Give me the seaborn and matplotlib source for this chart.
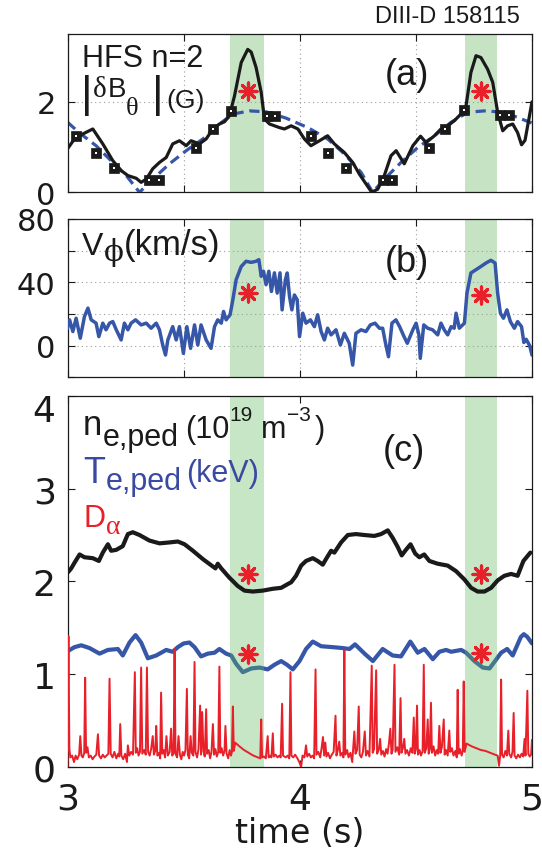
import numpy as np
import pandas as pd
import matplotlib
matplotlib.use('Agg')
import matplotlib.pyplot as plt
import matplotlib.transforms as mtransforms
import seaborn as sns

sns.set_style('ticks')
plt.rcParams['font.family'] = ['Liberation Sans', 'DejaVu Sans']
plt.rcParams['mathtext.fontset'] = 'dejavusans'

# ---------------- data ----------------
bands = [(3.70, 3.845), (4.71, 4.85)]

# (a) HFS n=2 |dB_theta|
dbt_t = [3.000, 3.030, 3.066, 3.109, 3.152, 3.195, 3.231, 3.260, 3.296, 3.317, 3.339, 3.367,
         3.396, 3.425, 3.453, 3.482, 3.511, 3.532, 3.568, 3.597, 3.626, 3.654, 3.676, 3.697,
         3.719, 3.748, 3.776, 3.791, 3.812, 3.834, 3.848, 3.870, 3.913, 3.934, 3.963, 3.992,
         4.020, 4.048, 4.085, 4.120, 4.149, 4.192, 4.228, 4.257, 4.286, 4.310, 4.336, 4.364,
         4.393, 4.415, 4.450, 4.487, 4.520, 4.544, 4.580, 4.608, 4.637, 4.665, 4.694, 4.716,
         4.737, 4.759, 4.780, 4.809, 4.831, 4.852, 4.874, 4.895, 4.917, 4.938, 4.955, 4.970,
         5.000]
dbt_v = [0.96, 1.18, 1.29, 1.40, 1.07, 0.70, 0.48, 0.37, 0.31, 0.22, 0.29, 0.52,
         0.66, 0.77, 1.07, 1.14, 1.03, 1.14, 1.07, 1.18, 1.40, 1.51, 1.56, 1.69,
         2.13, 2.87, 3.16, 3.10, 2.76, 2.21, 1.62, 1.51, 1.43, 1.40, 1.47, 1.40,
         1.18, 1.03, 1.14, 1.25, 1.07, 0.88, 0.66, 0.40, 0.18, 0.00, 0.07, 0.37,
         0.81, 0.92, 0.63, 1.03, 1.24, 1.10, 1.25, 1.40, 1.47, 1.58, 1.73, 1.91,
         2.65, 3.02, 2.98, 2.72, 2.43, 1.77, 1.36, 1.47, 1.51, 1.32, 1.05, 1.15,
         2.00]

fit_t = [3.000, 3.050, 3.123, 3.195, 3.253, 3.310, 3.367, 3.439, 3.511, 3.583, 3.654, 3.712,
         3.783, 3.855, 3.941, 4.035, 4.120, 4.192, 4.264, 4.314, 4.364, 4.436, 4.508, 4.580,
         4.652, 4.724, 4.795, 4.880, 5.000]
fit_v = [1.55, 1.32, 1.03, 0.66, 0.37, 0.00, 0.29, 0.63, 0.92, 1.18, 1.51, 1.73,
         1.80, 1.78, 1.64, 1.43, 1.18, 0.85, 0.44, 0.00, 0.29, 0.66, 0.99, 1.25,
         1.55, 1.77, 1.80, 1.77, 1.53]

sq_t = [3.037, 3.123, 3.202, 3.353, 3.392, 3.554, 3.626, 3.705, 3.858, 3.894,
        4.049, 4.120, 4.200, 4.357, 4.396, 4.556, 4.627, 4.709, 4.862, 4.903]
sq_v = [1.25, 0.87, 0.53, 0.28, 0.28, 0.99, 1.40, 1.80, 1.69, 1.69,
        1.25, 0.87, 0.53, 0.28, 0.28, 0.99, 1.40, 1.82, 1.71, 1.71]

star_t = [3.779, 4.780]
star_a = [2.24, 2.24]
star_b = [33.0, 32.0]
star_ne = [2.08, 2.08]
star_te = [1.22, 1.23]

# (b) V_phi
vphi_t = [3.000, 3.009, 3.023, 3.037, 3.055, 3.073, 3.088, 3.102, 3.123, 3.135, 3.152, 3.166,
          3.181, 3.195, 3.210, 3.231, 3.245, 3.260, 3.274, 3.293, 3.317, 3.339, 3.360, 3.382,
          3.396, 3.410, 3.422, 3.432, 3.453, 3.468, 3.482, 3.499, 3.514, 3.530, 3.547, 3.561,
          3.575, 3.597, 3.618, 3.633, 3.647, 3.662, 3.672, 3.683, 3.700, 3.712, 3.726, 3.748,
          3.769, 3.791, 3.812, 3.824, 3.834, 3.844, 3.855, 3.867, 3.878, 3.891, 3.903, 3.915,
          3.924, 3.938, 3.946, 3.956, 3.966, 3.977, 3.989, 3.999, 4.013, 4.027, 4.046, 4.063,
          4.077, 4.092, 4.106, 4.120, 4.135, 4.156, 4.175, 4.192, 4.213, 4.228, 4.242, 4.264,
          4.285, 4.304, 4.324, 4.343, 4.357, 4.368, 4.382, 4.397, 4.414, 4.430, 4.449, 4.463,
          4.487, 4.501, 4.513, 4.519, 4.534, 4.551, 4.572, 4.594, 4.608, 4.622, 4.637, 4.652,
          4.665, 4.673, 4.687, 4.709, 4.720, 4.737, 4.759, 4.780, 4.802, 4.823, 4.841, 4.852,
          4.864, 4.877, 4.892, 4.907, 4.924, 4.938, 4.955, 4.965, 4.975, 4.990, 5.000]
vphi_v = [11, 16.3, 8.9, 17.3, 4.7, 18.4, 23.7, 16.3, 14.2, 5.7, 14.2, 10,
          14.2, 15.2, 10, 3.6, 14.2, 10, 14.2, 16.3, 13.1, 14.2, 11, 14.2,
          10, 0.4, -5.9, 3.6, 12, 3.6, 12, -4.9, 12, -1.7, 13.1, 0.4,
          13.1, 3.6, -1.7, 12, 16.3, 14.2, 21.6, 16.3, 19.5, 29, 41.6, 50,
          53.3, 52.6, 53.3, 54.3, 43.8, 47, 38.5, 47, 34.2, 46, 33.2, 46,
          22.6, 41.6, 45.9, 31, 22.6, 32, 29, 5.7, 20.5, 14.2, 16.3, 12,
          19.5, 8.9, 3.6, 11, 6.8, 10, 0.4, 7.8, 1.5, -12.3, 7.8, 10,
          8.9, 13.1, 14.2, 11, 11, 2.5, -7, 14.2, 16.3, 12, 5.7, 1.5,
          10, 14.2, 6.8, -8, 13.1, 11, 10, 6.8, 14.2, 10, 6.8, 12,
          11, 20.5, 11, 14.2, 33.2, 45.9, 48, 50, 52.2, 53.9, 52.2, 33.2,
          20.5, 17.3, 22.6, 15.2, 11, 15.2, 12, 2, 4, 0, -6]

# (c) n_e,ped
ne_t = [3.003, 3.016, 3.030, 3.052, 3.073, 3.109, 3.135, 3.152, 3.174, 3.188, 3.210, 3.238,
        3.260, 3.281, 3.310, 3.353, 3.396, 3.439, 3.475, 3.504, 3.540, 3.583, 3.626, 3.637,
        3.647, 3.662, 3.697, 3.733, 3.762, 3.798, 3.841, 3.884, 3.920, 3.948, 3.963, 3.984,
        4.006, 4.027, 4.056, 4.077, 4.099, 4.113, 4.135, 4.149, 4.178, 4.207, 4.242, 4.278,
        4.321, 4.350, 4.379, 4.400, 4.422, 4.439, 4.457, 4.477, 4.497, 4.515, 4.536, 4.558,
        4.594, 4.637, 4.673, 4.709, 4.738, 4.766, 4.795, 4.824, 4.852, 4.881, 4.910, 4.938,
        4.963, 4.993]
ne_v = [2.10, 2.14, 2.20, 2.29, 2.26, 2.25, 2.22, 2.31, 2.40, 2.33, 2.34, 2.38,
        2.51, 2.53, 2.50, 2.44, 2.41, 2.42, 2.43, 2.40, 2.33, 2.24, 2.16, 2.14,
        2.19, 2.14, 2.04, 1.95, 1.90, 1.89, 1.90, 1.92, 1.93, 1.97, 1.99, 2.06,
        2.17, 2.22, 2.25, 2.22, 2.18, 2.24, 2.33, 2.31, 2.42, 2.50, 2.51, 2.50,
        2.49, 2.51, 2.55, 2.47, 2.37, 2.28, 2.34, 2.40, 2.30, 2.26, 2.29, 2.22,
        2.19, 2.17, 2.11, 2.02, 1.93, 1.89, 1.89, 1.93, 2.01, 2.06, 2.08, 2.06,
        2.22, 2.31]

# (c) T_e,ped
te_t = [3.003, 3.030, 3.059, 3.095, 3.138, 3.174, 3.217, 3.238, 3.267, 3.293, 3.317, 3.346,
        3.382, 3.425, 3.453, 3.475, 3.500, 3.525, 3.547, 3.575, 3.604, 3.633, 3.654, 3.683,
        3.705, 3.726, 3.755, 3.791, 3.827, 3.862, 3.891, 3.920, 3.945, 3.970, 3.999, 4.027,
        4.056, 4.092, 4.142, 4.185, 4.214, 4.238, 4.279, 4.315, 4.357, 4.400, 4.436, 4.476,
        4.508, 4.537, 4.573, 4.601, 4.630, 4.652, 4.695, 4.716, 4.752, 4.788, 4.817, 4.838,
        4.867, 4.893, 4.917, 4.938, 4.952, 4.965, 4.980, 5.000]
te_v = [1.25, 1.29, 1.31, 1.28, 1.22, 1.26, 1.27, 1.20, 1.34, 1.42, 1.34, 1.17,
        1.20, 1.26, 1.24, 1.29, 1.33, 1.34, 1.29, 1.19, 1.22, 1.23, 1.27, 1.22,
        1.20, 1.11, 1.02, 1.06, 1.07, 1.05, 1.10, 1.14, 1.10, 1.05, 1.14, 1.27,
        1.35, 1.30, 1.29, 1.28, 1.27, 1.32, 1.22, 1.14, 1.27, 1.20, 1.19, 1.35,
        1.23, 1.27, 1.16, 1.24, 1.26, 1.24, 1.26, 1.23, 1.14, 1.07, 1.06, 1.13,
        1.23, 1.27, 1.20, 1.32, 1.40, 1.43, 1.40, 1.33]

# (c) D_alpha
da_t = [3.000, 3.004, 3.008, 3.012, 3.020, 3.028, 3.035, 3.042, 3.050, 3.055, 3.060, 3.066,
        3.072, 3.076, 3.080, 3.086, 3.092, 3.100, 3.108, 3.116, 3.124, 3.131, 3.136, 3.144,
        3.152, 3.160, 3.168, 3.176, 3.181, 3.186, 3.194, 3.202, 3.210, 3.218, 3.223, 3.227,
        3.232, 3.240, 3.248, 3.256, 3.260, 3.266, 3.274, 3.282, 3.290, 3.294, 3.300, 3.306,
        3.312, 3.317, 3.322, 3.330, 3.337, 3.342, 3.347, 3.354, 3.360, 3.367, 3.372, 3.378,
        3.382, 3.387, 3.394, 3.399, 3.403, 3.408, 3.414, 3.420, 3.426, 3.432, 3.440, 3.446,
        3.451, 3.457, 3.461, 3.465, 3.472, 3.478, 3.484, 3.490, 3.496, 3.502, 3.508, 3.514,
        3.518, 3.524, 3.530, 3.535, 3.542, 3.547, 3.551, 3.558, 3.564, 3.571, 3.575, 3.580,
        3.585, 3.591, 3.597, 3.601, 3.608, 3.614, 3.620, 3.626, 3.631, 3.637, 3.643, 3.649,
        3.654, 3.658, 3.664, 3.670, 3.676, 3.680, 3.685, 3.692, 3.698, 3.704, 3.708, 3.712,
        3.716, 3.722, 3.740, 3.760, 3.780, 3.800, 3.820, 3.830, 3.834, 3.838, 3.846, 3.854,
        3.862, 3.866, 3.872, 3.878, 3.884, 3.888, 3.896, 3.904, 3.912, 3.918, 3.924, 3.928,
        3.940, 3.948, 3.955, 3.960, 3.964, 3.972, 3.980, 3.990, 3.998, 4.006, 4.012, 4.020,
        4.027, 4.032, 4.040, 4.048, 4.055, 4.062, 4.068, 4.072, 4.080, 4.088, 4.094, 4.100,
        4.105, 4.110, 4.115, 4.122, 4.130, 4.138, 4.146, 4.154, 4.158, 4.164, 4.170, 4.175,
        4.183, 4.188, 4.192, 4.196, 4.204, 4.210, 4.218, 4.226, 4.235, 4.240, 4.247, 4.254,
        4.258, 4.265, 4.272, 4.280, 4.285, 4.292, 4.300, 4.310, 4.314, 4.320, 4.329, 4.333,
        4.340, 4.346, 4.351, 4.358, 4.365, 4.372, 4.378, 4.384, 4.390, 4.395, 4.400, 4.408,
        4.412, 4.420, 4.428, 4.434, 4.438, 4.444, 4.450, 4.455, 4.462, 4.470, 4.478, 4.485,
        4.491, 4.495, 4.500, 4.505, 4.509, 4.516, 4.522, 4.529, 4.534, 4.538, 4.545, 4.551,
        4.555, 4.560, 4.565, 4.569, 4.576, 4.583, 4.590, 4.596, 4.601, 4.606, 4.612, 4.620,
        4.624, 4.630, 4.637, 4.644, 4.648, 4.655, 4.662, 4.670, 4.676, 4.680, 4.684, 4.690,
        4.697, 4.702, 4.706, 4.710, 4.718, 4.740, 4.760, 4.780, 4.800, 4.820, 4.840, 4.852,
        4.858, 4.863, 4.867, 4.871, 4.878, 4.885, 4.892, 4.898, 4.902, 4.910, 4.916, 4.921,
        4.925, 4.932, 4.940, 4.948, 4.955, 4.962, 4.968, 4.972, 4.980, 4.984, 4.990, 4.996,
        5.000]
da_v = [0.00, 1.41, 0.20, 0.10, 0.12, 0.05, 0.12, 0.08, 0.13, 0.33, 0.12, 0.10,
        0.15, 0.96, 0.15, 0.21, 0.10, 0.12, 0.08, 0.11, 0.13, 0.35, 0.12, 0.09,
        0.13, 0.10, 0.12, 0.14, 0.95, 0.14, 0.10, 0.16, 0.09, 0.14, 0.11, 0.46,
        0.12, 0.08, 0.14, 0.05, 0.23, 0.12, 0.16, 0.13, 1.02, 0.15, 0.20, 0.12,
        0.16, 1.07, 0.14, 0.18, 0.13, 1.07, 0.16, 0.12, 0.19, 0.33, 0.13, 0.17,
        0.44, 0.12, 0.15, 0.09, 0.80, 0.14, 0.18, 0.10, 0.33, 0.12, 0.16, 0.41,
        0.12, 0.15, 1.27, 0.14, 0.10, 0.33, 0.13, 0.08, 0.16, 0.12, 0.18, 0.84,
        0.13, 0.09, 0.33, 0.15, 0.12, 1.13, 0.16, 0.10, 0.19, 0.66, 0.13, 0.59,
        0.17, 0.11, 0.62, 0.14, 0.18, 0.09, 0.16, 0.46, 0.13, 0.19, 0.11, 0.16,
        1.08, 0.15, 0.20, 0.12, 0.17, 0.44, 0.14, 0.09, 0.18, 0.12, 0.16, 0.65,
        0.17, 0.26, 0.22, 0.18, 0.15, 0.12, 0.10, 0.09, 0.51, 0.10, 0.11, 0.09,
        0.33, 0.10, 0.12, 0.10, 0.36, 0.11, 0.13, 0.10, 0.12, 0.10, 0.68, 0.12,
        0.10, 0.12, 0.09, 1.02, 0.12, 0.10, 0.13, 0.09, 0.05, 0.00, 0.12, 0.10,
        0.23, 0.11, 0.14, 0.10, 0.12, 0.09, 1.05, 0.13, 0.16, 0.10, 0.20, 0.32,
        0.12, 0.26, 0.11, 0.15, 0.09, 0.13, 0.16, 0.55, 0.12, 0.18, 0.27, 0.12,
        0.15, 0.10, 1.26, 0.13, 0.18, 0.10, 0.15, 0.05, 0.38, 0.14, 0.18, 0.65,
        0.13, 0.10, 0.16, 0.38, 0.12, 0.17, 0.11, 1.09, 0.15, 0.19, 1.04, 0.14,
        0.18, 0.30, 0.13, 0.17, 0.11, 0.19, 0.14, 0.25, 0.41, 0.14, 0.18, 1.10,
        0.16, 0.21, 0.13, 0.74, 0.15, 0.20, 0.30, 0.14, 0.18, 0.12, 0.20, 0.15,
        0.53, 0.14, 0.19, 0.66, 0.13, 0.18, 0.12, 0.17, 1.10, 0.15, 0.20, 0.51,
        0.14, 0.19, 0.69, 0.15, 0.22, 0.12, 0.18, 0.14, 0.44, 0.15, 0.21, 0.51,
        0.13, 0.18, 0.12, 0.39, 0.16, 0.20, 0.12, 0.17, 0.10, 0.83, 0.14, 0.19,
        0.12, 0.17, 0.92, 0.16, 0.25, 0.22, 0.20, 0.18, 0.17, 0.15, 0.13, 0.12,
        0.01, 0.12, 0.94, 0.13, 0.10, 0.17, 0.12, 0.39, 0.14, 0.10, 0.16, 0.58,
        0.12, 0.09, 0.13, 0.10, 0.14, 0.11, 0.30, 0.12, 0.82, 0.14, 0.11, 0.13,
        0.29]

xticks_ab = [3.0, 3.5, 4.0, 4.5, 5.0]
yticks_a = [0, 2]
yticks_b = [-20, 0, 20, 40, 60, 80]
ylabels_b = ['', '0', '', '40', '', '80']
xticks_c = [3, 4, 5]
yticks_c = [0, 1, 2, 3, 4]

# ---------------- styles ----------------
BLACK = '#1a1a1a'
BLUE = '#3656a8'
TBLUE = '#3a4aa3'
RED = '#e8202a'
GREEN = '#5cb85c'
GRIDC = '#9c9c9c'
SANS = ['Liberation Sans', 'DejaVu Sans']
SERIF = ['Liberation Serif', 'DejaVu Serif']
TICKFONT = 'DejaVu Sans'

W, H = 542, 854
fig = plt.figure(figsize=(W / 100, H / 100), dpi=100)


def rect(l, t, r, b):
    return [l / W, 1 - b / H, (r - l) / W, (b - t) / H]


ax_a = fig.add_axes(rect(67.5, 35, 532, 193.3))
ax_b = fig.add_axes(rect(67.5, 220, 532, 378.3))
ax_c = fig.add_axes(rect(67.5, 397, 532, 767.7))


def ftext(x, y, s, size, color=BLACK, family=SANS, va='baseline', ha='left'):
    fig.text(x / W, 1 - y / H, s, fontsize=size, color=color, va=va, ha=ha,
             family=family)


def style_axis(ax, labelsize):
    ax.tick_params(direction='in', top=True, right=True, length=5, width=0.8,
                   labelsize=labelsize, pad=8.5, colors=BLACK,
                   labelfontfamily=TICKFONT)
    for sp in ax.spines.values():
        sp.set_linewidth(0.9)
        sp.set_color(BLACK)
        sp.set_visible(True)


# ---- (a) ----
ax = ax_a
for b0, b1 in bands:
    ax.axvspan(b0, b1, color='#c6e4c4', lw=0, zorder=0)
sns.lineplot(x=fit_t, y=fit_v, ax=ax, color=BLUE, lw=2.3, sort=False, estimator=None,
             linestyle=(0, (3.2, 1.8)), zorder=2)
sns.lineplot(x=dbt_t, y=dbt_v, ax=ax, color=BLACK, lw=2.3, sort=False, estimator=None, zorder=3)
sns.scatterplot(x=sq_t, y=sq_v, ax=ax, marker='s', s=62, color=BLACK, edgecolor=BLACK,
                linewidth=0.5, zorder=4)
sns.scatterplot(x=sq_t, y=sq_v, ax=ax, marker='s', s=2.5, color='white', linewidth=0, zorder=5)
sns.scatterplot(x=star_t, y=star_a, ax=ax, marker=(8, 2, 0), s=150, color=RED,
                edgecolor=RED, linewidth=2.3, zorder=6)
ax.set_xlim(3, 5)
ax.set_ylim(0, 3.5)
ax.set_xticks(xticks_ab)
ax.set_xticklabels([])
ax.set_yticks(yticks_a)
ax.set_yticklabels([str(v) for v in yticks_a])
ax.grid(True, ls=(0, (1, 3)), color=GRIDC, lw=0.8)
style_axis(ax, 22)
ax.text(4.46, 2.61, '(a)', fontsize=26, ha='center', va='center', color=BLACK)

# ---- (b) ----
ax = ax_b
for b0, b1 in bands:
    ax.axvspan(b0, b1, color='#c6e4c4', lw=0, zorder=0)
sns.lineplot(x=vphi_t, y=vphi_v, ax=ax, color=BLUE, lw=2.5, sort=False, estimator=None, zorder=3)
sns.scatterplot(x=star_t, y=star_b, ax=ax, marker=(8, 2, 0), s=150, color=RED,
                edgecolor=RED, linewidth=2.3, zorder=6)
ax.set_xlim(3, 5)
ax.set_ylim(-20, 80)
ax.set_xticks(xticks_ab)
ax.set_xticklabels([])
ax.set_yticks(yticks_b)
ax.set_yticklabels(ylabels_b)
ax.grid(True, ls=(0, (1, 3)), color=GRIDC, lw=0.8)
style_axis(ax, 22)
ax.text(4.46, 53.3, '(b)', fontsize=26, ha='center', va='center', color=BLACK)

# ---- (c) ----
ax = ax_c
sns.lineplot(x=te_t, y=te_v, ax=ax, color=BLUE, lw=3.0, sort=False, estimator=None, zorder=2)
for b0, b1 in bands:
    ax.axvspan(b0, b1, color=GREEN, alpha=0.35, lw=0, zorder=2.5)
sns.lineplot(x=da_t, y=da_v, ax=ax, color=RED, lw=1.4, sort=False, estimator=None, zorder=3)
sns.lineplot(x=ne_t, y=ne_v, ax=ax, color=BLACK, lw=3.0, sort=False, estimator=None, zorder=3)
sns.scatterplot(x=star_t, y=star_ne, ax=ax, marker=(8, 2, 0), s=150, color=RED,
                edgecolor=RED, linewidth=2.3, zorder=6)
sns.scatterplot(x=star_t, y=star_te, ax=ax, marker=(8, 2, 0), s=150, color=RED,
                edgecolor=RED, linewidth=2.3, zorder=6)
ax.set_xlim(3, 5)
ax.set_ylim(0, 4)
ax.set_xticks(xticks_c)
ax.set_xticklabels([str(v) for v in xticks_c])
ax.set_yticks(yticks_c)
ax.set_yticklabels([str(v) for v in yticks_c])
style_axis(ax, 26)
ax.tick_params(axis='x', pad=11, labelsize=26)
ax.set_xlabel('time (s)', fontsize=24, labelpad=0, color=BLACK, family=TICKFONT)
ax.set_ylabel('')
ax.text(4.45, 3.41, '(c)', fontsize=26, ha='center', va='center', color=BLACK)
for lab in ax.get_yticklabels():
    if lab.get_text() == '4':
        lab.set_transform(lab.get_transform() +
                          mtransforms.ScaledTranslation(0, -0.11, fig.dpi_scale_trans))

ax_a.set_ylabel('')
ax_b.set_ylabel('')
ax_a.set_xlabel('')
ax_b.set_xlabel('')

# ---------------- in-panel labels ----------------
ftext(520, 16.7, 'DIII-D 158115', 17, va='center', ha='right')

# (a)
ftext(82, 67.3, 'HFS n=2', 22)
ftext(81, 107.5, '|', 32)
ftext(93, 97, 'δ', 21, family=SERIF)
ftext(108, 97, 'B', 20)
ftext(126, 115, 'θ', 19, family=SERIF)
ftext(152, 107.5, '|', 32)
ftext(166, 107.7, '(G)', 19)

# (b)
ftext(82, 255, 'V', 23)
ftext(104, 261, 'ϕ', 21, family=['DejaVu Serif', 'Liberation Serif'])
ftext(124, 255, '(km/s)', 25)

# (c)
ftext(83, 435, 'n', 25)
ftext(103, 446, 'e,ped', 22)
ftext(185, 438, '(10', 22)
ftext(229.5, 421, '19', 15)
ftext(261, 438, 'm', 22)
ftext(287.5, 421, '−3', 15)
ftext(315, 438, ')', 22)

ftext(83, 483, 'T', 26, color=TBLUE)
ftext(106, 490, 'e,ped', 22, color=TBLUE)
ftext(186, 482, '(keV)', 22, color=TBLUE)

ftext(83, 527, 'D', 22, color=RED)
ftext(106, 534, 'α', 20, color=RED, family=SERIF)

fig.savefig('out.png', dpi=100)
